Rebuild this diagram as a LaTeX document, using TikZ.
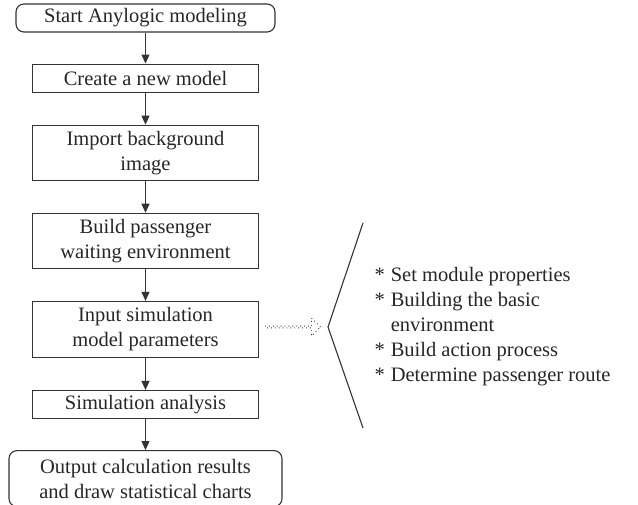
\documentclass[tikz,border=0pt]{standalone}
\usepackage{fontspec}
\setmainfont{Liberation Serif}
\usetikzlibrary{positioning,arrows.meta,shapes.arrows}

\begin{document}
\begin{tikzpicture}[x=1pt,y=1pt, node distance=32pt, line width=1.1pt,
                    font=\fontsize{20.5}{25}\selectfont, text=black!85,
                    main node/.style={draw=black!80,minimum width=226pt,minimum height=28pt,inner sep=1pt,align=center},
                    end node/.style={main node,rounded corners=8pt},
                    link/.style={draw=black!80,-{Triangle[length=9pt,width=8pt]}}]
  \useasboundingbox (0,0) rectangle (638,504);

  \node[end node,minimum width=259pt] (1) at (145.5,486) {Start Anylogic modeling};
  \node[main node] (2) [below=31pt of 1] {Create a new model};
  \node[main node,minimum height=55pt] (3) [below=of 2] {Import background\\image};
  \node[main node,minimum height=55pt] (4) [below=of 3] {Build passenger\\waiting environment};
  \node[main node,minimum height=56pt] (5) [below=of 4] {Input simulation\\model parameters};
  \node[main node] (6) [below=of 5] {Simulation analysis};
  \node[end node,minimum width=273pt,minimum height=56pt] (7) [below=31pt of 6] {Output calculation results\\and draw statistical charts};

  \draw[link] (1) -- (2);
  \draw[link] (2) -- (3);
  \draw[link] (3) -- (4);
  \draw[link] (4) -- (5);
  \draw[link] (5) -- (6);
  \draw[link] (6) -- (7);

  % side notes for step 5
  \coordinate (top) at (363,281);
  \coordinate (tip) at (328,177);
  \coordinate (bot) at (363,76);
  \draw[black!80] (top) -- (tip) -- (bot);
  \node[single arrow,draw=black!80,dash pattern=on 0.9pt off 3pt,line width=0.9pt,inner sep=0pt,
        minimum width=18pt,minimum height=55pt,single arrow head extend=4pt,
        single arrow head indent=0pt] (dots) at (292.5,177) {};
  \node[anchor=west,align=left,inner sep=0pt] (notes) at (374,177)
    {\begin{tabular}{@{}l@{\hspace{6pt}}l@{}}
      {*} & Set module properties\\
      {*} & Building the basic\\
          & environment\\
      {*} & Build action process\\
      {*} & Determine passenger route
     \end{tabular}};

\end{tikzpicture}
\end{document}
